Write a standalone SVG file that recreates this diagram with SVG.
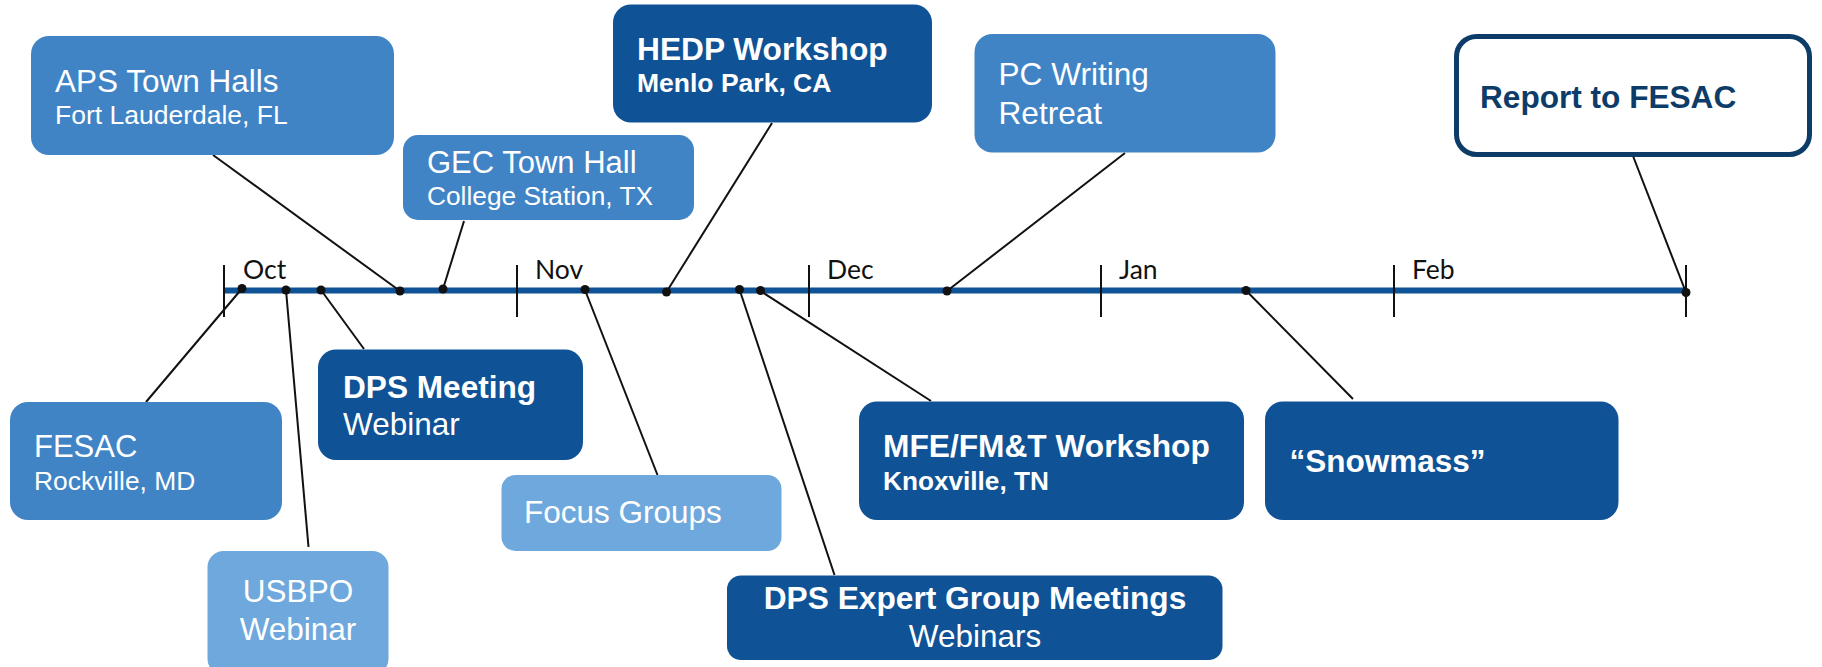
<svg xmlns="http://www.w3.org/2000/svg" width="1822" height="667" viewBox="0 0 1822 667">
<style>
.t{font-family:"Liberation Sans",Arial,sans-serif;fill:#fff}
.b{font-weight:bold}
.mid{fill:#4084C6}
.dark{fill:#0F5295}
.light{fill:#6FA8DC}
.conn line{stroke:#111;stroke-width:2}
.conn circle{fill:#111}
.tick{stroke:#111;stroke-width:2}
.mon{font-family:Lato,"Liberation Sans",sans-serif;font-size:26.5px;fill:#111}
</style>
<rect width="1822" height="667" fill="#fff"/>
<g id="timeline">
<line x1="224" y1="290.5" x2="1686" y2="290.5" stroke="#0F5295" stroke-width="6"/>
<line class="tick" x1="224" y1="265" x2="224" y2="317"/>
<line class="tick" x1="517" y1="265" x2="517" y2="317"/>
<line class="tick" x1="809" y1="265" x2="809" y2="317"/>
<line class="tick" x1="1101" y1="265" x2="1101" y2="317"/>
<line class="tick" x1="1394" y1="265" x2="1394" y2="317"/>
<line class="tick" x1="1686" y1="265" x2="1686" y2="317"/>
<text class="mon" x="243" y="279">Oct</text>
<text class="mon" x="535" y="279">Nov</text>
<text class="mon" x="827" y="279">Dec</text>
<text class="mon" x="1119" y="279">Jan</text>
<text class="mon" x="1412" y="279">Feb</text>
</g>
<g id="connectors" class="conn">
<line x1="213" y1="155" x2="400" y2="291"/>
<line x1="464" y1="221" x2="443" y2="289"/>
<line x1="772" y1="123" x2="666.5" y2="292"/>
<line x1="1125" y1="153" x2="947" y2="291"/>
<line x1="1633" y1="156" x2="1686" y2="292.5"/>
<line x1="242" y1="288.5" x2="146" y2="402"/>
<line x1="286" y1="290" x2="308.5" y2="547"/>
<line x1="321" y1="290" x2="364" y2="349"/>
<line x1="585" y1="290" x2="657.5" y2="475"/>
<line x1="739.5" y1="289.5" x2="834.5" y2="575"/>
<line x1="760.5" y1="291" x2="931" y2="401"/>
<line x1="1246" y1="290.5" x2="1353" y2="399"/>
<circle cx="242" cy="288.5" r="4.5"/>
<circle cx="286" cy="290" r="4.5"/>
<circle cx="321" cy="290" r="4.5"/>
<circle cx="400" cy="291" r="4.5"/>
<circle cx="443" cy="289" r="4.5"/>
<circle cx="585" cy="289.5" r="4.5"/>
<circle cx="666.5" cy="292" r="4.5"/>
<circle cx="739.5" cy="289.5" r="4.5"/>
<circle cx="760.5" cy="290.5" r="4.5"/>
<circle cx="947" cy="291" r="4.5"/>
<circle cx="1246" cy="290.5" r="4.5"/>
<circle cx="1686" cy="292.5" r="4.5"/>
</g>
<g id="aps">
<rect class="mid" x="31" y="36" width="363" height="119" rx="18"/>
<text class="t" x="55" y="92" font-size="31.5">APS Town Halls</text>
<text class="t" x="55" y="124" font-size="26.5">Fort Lauderdale, FL</text>
</g>
<g id="gec">
<rect class="mid" x="403" y="135" width="291" height="85" rx="15"/>
<text class="t" x="427" y="172.5" font-size="31">GEC Town Hall</text>
<text class="t" x="427" y="205" font-size="26.3">College Station, TX</text>
</g>
<g id="hedp">
<rect class="dark" x="613" y="4.5" width="319" height="118" rx="18"/>
<text class="t b" x="637" y="60" font-size="31.7">HEDP Workshop</text>
<text class="t b" x="637" y="92" font-size="26.5">Menlo Park, CA</text>
</g>
<g id="pc">
<rect class="mid" x="974.5" y="34" width="301" height="118.5" rx="18"/>
<text class="t" x="998.5" y="85" font-size="31.6">PC Writing</text>
<text class="t" x="998.5" y="123.5" font-size="31.6">Retreat</text>
</g>
<g id="report">
<rect x="1456.5" y="36.5" width="353" height="118" rx="20" fill="#fff" stroke="#0D3C69" stroke-width="5"/>
<text class="t b" x="1480" y="107.5" font-size="31.6" style="fill:#0D3C69">Report to FESAC</text>
</g>
<g id="fesac">
<rect class="mid" x="10" y="402" width="272" height="118" rx="18"/>
<text class="t" x="34" y="457" font-size="31">FESAC</text>
<text class="t" x="34" y="490" font-size="26.4">Rockville, MD</text>
</g>
<g id="usbpo">
<rect class="light" x="207.5" y="551" width="181" height="124" rx="16"/>
<text class="t" x="298" y="602" font-size="31.5" text-anchor="middle">USBPO</text>
<text class="t" x="298" y="640" font-size="31.5" text-anchor="middle">Webinar</text>
</g>
<g id="dps-meeting">
<rect class="dark" x="318" y="349.5" width="265" height="110.5" rx="18"/>
<text class="t b" x="343" y="398" font-size="31.6">DPS Meeting</text>
<text class="t" x="343" y="435" font-size="31.5">Webinar</text>
</g>
<g id="focus">
<rect class="light" x="501.5" y="475" width="280" height="76" rx="14"/>
<text class="t" x="524" y="523" font-size="31.5">Focus Groups</text>
</g>
<g id="dps-expert">
<rect class="dark" x="727" y="575.5" width="495.5" height="84.5" rx="14"/>
<text class="t b" x="975" y="609" font-size="31.7" text-anchor="middle">DPS Expert Group Meetings</text>
<text class="t" x="975" y="647" font-size="31.5" text-anchor="middle">Webinars</text>
</g>
<g id="mfe">
<rect class="dark" x="859" y="401.5" width="385" height="118.5" rx="18"/>
<text class="t b" x="883" y="457" font-size="31.7">MFE/FM&amp;T Workshop</text>
<text class="t b" x="883" y="489.5" font-size="26.2">Knoxville, TN</text>
</g>
<g id="snowmass">
<rect class="dark" x="1265" y="401.5" width="353.5" height="118.5" rx="18"/>
<text class="t b" x="1289.5" y="472" font-size="31.5">“Snowmass”</text>
</g>
</svg>
